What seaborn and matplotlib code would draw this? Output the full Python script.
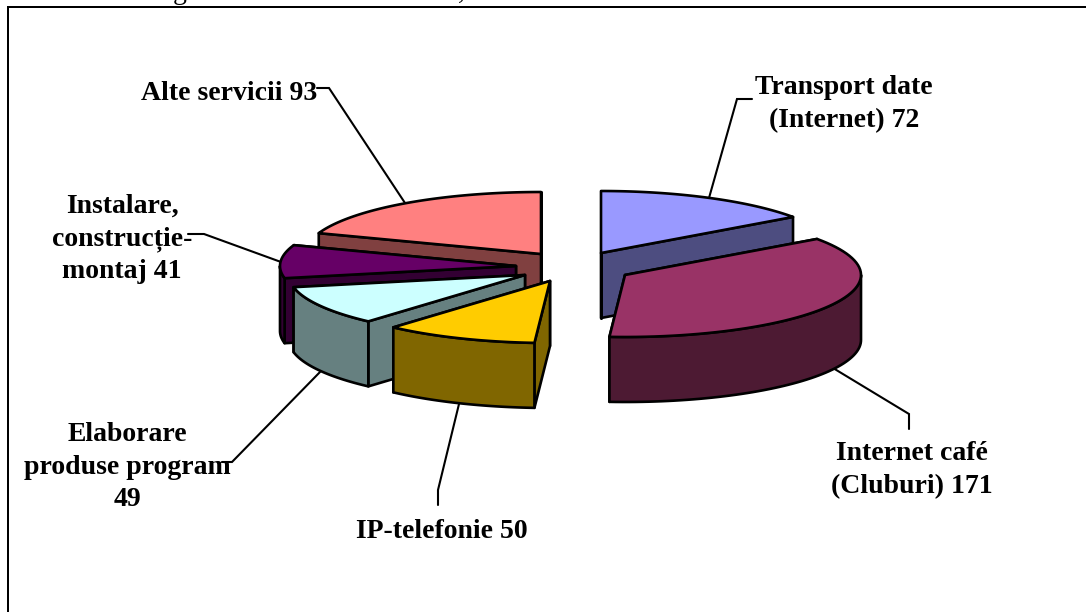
import numpy as np
import seaborn as sns
import matplotlib
matplotlib.use("Agg")
import matplotlib.pyplot as plt
from matplotlib.patches import Rectangle

labels = ["Transport date\n(Internet) 72", "Internet café\n(Cluburi) 171", "IP-telefonie 50",
          "Elaborare\nproduse program\n49", "Instalare,\nconstrucție-\nmontaj 41", "Alte servicii 93"]
values = [72, 171, 50, 49, 41, 93]
top_colors = ["#9999FF", "#993366", "#FFCC00", "#CCFFFF", "#660066", "#FF8080"]

# where each exploded slice has its tip, in image pixels
tips = [(601, 253), (625, 275), (550, 281), (525, 275), (516, 266), (541, 254)]
label_pos = [(844, 104), (912, 470), (442, 532), (127, 467), (122, 239), (229, 94)]
leaders = [
    [(752, 99), (737, 99), (709, 198)],
    [(909, 429), (909, 414), (833, 368)],
    [(438, 505), (438, 490), (459, 404)],
    [(222, 462), (232, 462), (320, 372)],
    [(188, 234), (204, 234), (281, 262)],
    [(317, 88), (329, 88), (405, 203)],
]
draw_order = [0, 5, 4, 3, 2, 1]

rx, ry, depth = 236, 62, 65
line_w = 1.5
pie_w = 1.9

sns.set_theme(style="white")
plt.rcParams["font.family"] = ["Liberation Serif", "DejaVu Serif"]

fig = plt.figure(figsize=(10.86, 6.12), dpi=100)
ax = fig.add_axes([0, 0, 1, 1])
ax.set_xlim(0, 1086)
ax.set_ylim(612, 0)
ax.axis("off")

tops = sns.color_palette(top_colors)
sides = [tuple(np.array(c) * 0.5) for c in tops]

edges = np.cumsum([0] + values) / sum(values) * 2 * np.pi


def rim(tip, a, b, n=60):
    t = np.linspace(a, b, n)
    return tip[0] + rx * np.sin(t), tip[1] - ry * np.cos(t)


# chart frame, right and bottom sides fall outside the crop
ax.plot([8, 8, 1090], [620, 7, 7], color="black", lw=1.44, zorder=1, solid_joinstyle="miter")
# bottom of the caption line above the chart, cut by the image edge
ax.text(180, -1, "g", fontsize=20, ha="center", va="baseline", color="black", zorder=1)
ax.text(461, -1, ",", fontsize=20, ha="center", va="baseline", color="black", zorder=1)

for pts in leaders:
    xs, ys = zip(*pts)
    ax.plot(xs, ys, color="black", lw=line_w, zorder=2, solid_joinstyle="miter")

z = 3
for i in draw_order:
    tip = tips[i]
    a, b = edges[i], edges[i + 1]
    style = dict(edgecolor="black", linewidth=pie_w, joinstyle="round")

    # the two cut faces, far one first so the near one hides its lines
    for ang in (b, a):
        ex, ey = rim(tip, ang, ang, 1)
        ax.fill([tip[0], ex[0], ex[0], tip[0]], [tip[1], ey[0], ey[0] + depth, tip[1] + depth],
                facecolor=sides[i], zorder=z, **style)
    # outer wall, only the part that faces the viewer
    lo, hi = max(a, np.pi / 2), min(b, 3 * np.pi / 2)
    if lo < hi:
        ox, oy = rim(tip, lo, hi)
        ax.fill(np.r_[ox, ox[::-1]], np.r_[oy, oy[::-1] + depth], facecolor=sides[i], zorder=z, **style)
    # top face
    tx, ty = rim(tip, a, b)
    ax.fill(np.r_[tip[0], tx], np.r_[tip[1], ty], facecolor=tops[i], zorder=z, **style)
    z += 1

for i, lab in enumerate(labels):
    t = ax.text(label_pos[i][0], label_pos[i][1], lab, fontsize=20, fontweight="bold", color="black",
                ha="center", va="center", multialignment="center", linespacing=1.4, zorder=20)
    if i == 0:
        # last letter is cut by the label box in the source
        t.set_clip_path(Rectangle((0, 0), 932, 612, transform=ax.transData))
        t.set_clip_on(True)

fig.savefig("out.png", dpi=100)
